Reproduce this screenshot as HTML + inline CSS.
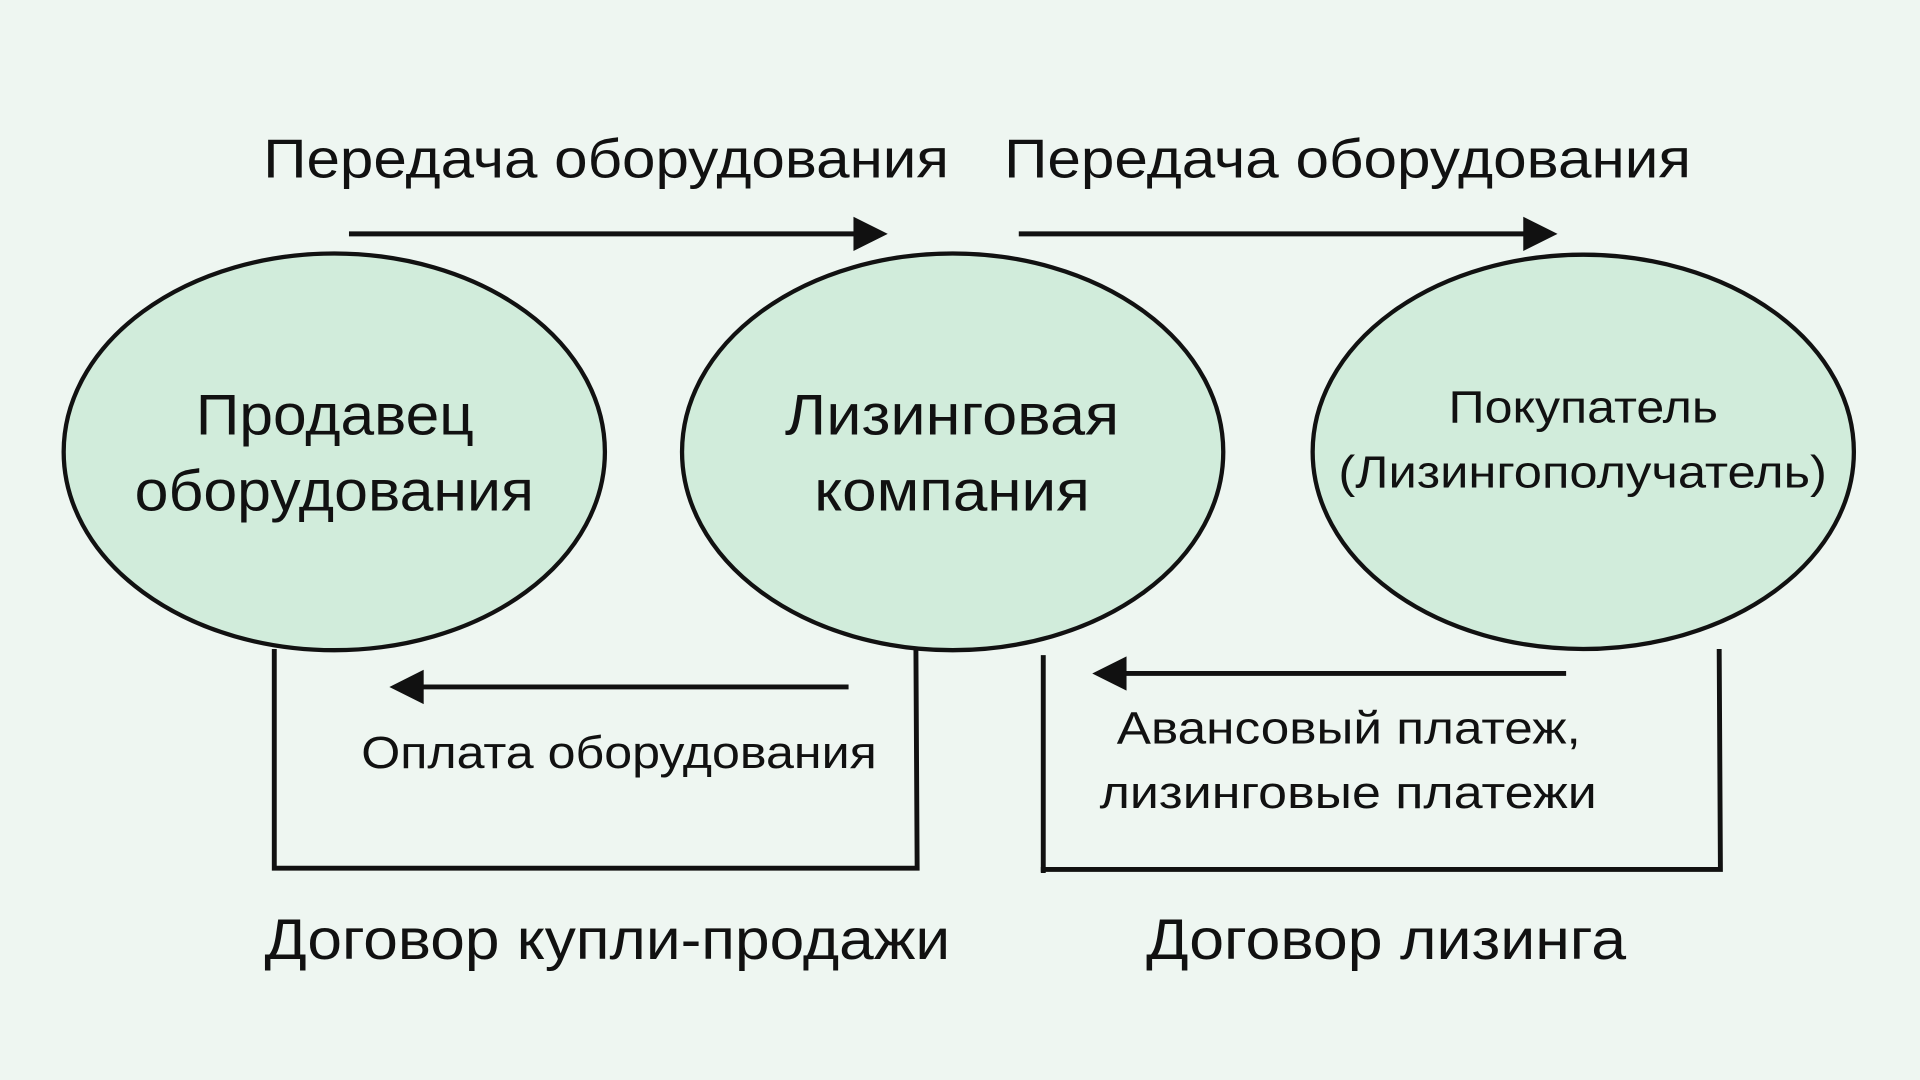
<!DOCTYPE html>
<html><head><meta charset="utf-8"><style>
html,body{margin:0;padding:0;width:1920px;height:1080px;overflow:hidden;background:#eef6f1;}
svg{display:block}
text{font-family:"Liberation Sans",sans-serif;fill:#111;text-anchor:middle}
</style></head><body>
<svg width="1920" height="1080" viewBox="0 0 1568 882">
<rect width="1568" height="882" fill="#eef6f1"/>
<g fill="#d1ecdb" stroke="#111" stroke-width="3.5">
<ellipse cx="273" cy="369" rx="221" ry="162"/>
<ellipse cx="778" cy="369" rx="221" ry="162"/>
<ellipse cx="1293" cy="369" rx="221" ry="161"/>
</g>
<g stroke="#111" stroke-width="4" fill="none">
<line x1="285" y1="191" x2="700" y2="191"/>
<line x1="832" y1="191" x2="1247" y2="191"/>
<polyline points="224,530 224,709 749,709 748,530"/>
<polyline points="852,535 852,713"/>
<polyline points="850,710 1405,710 1404,530"/>
<line x1="693" y1="561" x2="340" y2="561"/>
<line x1="1279" y1="550" x2="915" y2="550"/>
</g>
<g fill="#111">
<polygon points="725,191 697,177 697,205"/>
<polygon points="1272,191 1244,177 1244,205"/>
<polygon points="318,561 346,547 346,575"/>
<polygon points="892,550 920,536 920,564"/>
</g>
<g lengthAdjust="spacingAndGlyphs">
<text x="495" y="145" font-size="45" textLength="560" lengthAdjust="spacingAndGlyphs">Передача оборудования</text>
<text x="1100.5" y="145" font-size="45" textLength="561" lengthAdjust="spacingAndGlyphs">Передача оборудования</text>
<text x="273.5" y="355" font-size="47" textLength="227" lengthAdjust="spacingAndGlyphs">Продавец</text>
<text x="273" y="417" font-size="47" textLength="326" lengthAdjust="spacingAndGlyphs">оборудования</text>
<text x="777.5" y="355" font-size="47" textLength="273" lengthAdjust="spacingAndGlyphs">Лизинговая</text>
<text x="777.5" y="417" font-size="47" textLength="225" lengthAdjust="spacingAndGlyphs">компания</text>
<text x="1293" y="345" font-size="37" textLength="220" lengthAdjust="spacingAndGlyphs">Покупатель</text>
<text x="1292.5" y="398" font-size="37" textLength="399" lengthAdjust="spacingAndGlyphs">(Лизингополучатель)</text>
<text x="505.5" y="627" font-size="37" textLength="421" lengthAdjust="spacingAndGlyphs">Оплата оборудования</text>
<text x="1101.5" y="607" font-size="37" textLength="379" lengthAdjust="spacingAndGlyphs">Авансовый платеж,</text>
<text x="1101" y="660" font-size="37" textLength="406" lengthAdjust="spacingAndGlyphs">лизинговые платежи</text>
<text x="496" y="783" font-size="47" textLength="560" lengthAdjust="spacingAndGlyphs">Договор купли-продажи</text>
<text x="1132" y="783" font-size="47" textLength="392" lengthAdjust="spacingAndGlyphs">Договор лизинга</text>
</g>
</svg>
</body></html>
